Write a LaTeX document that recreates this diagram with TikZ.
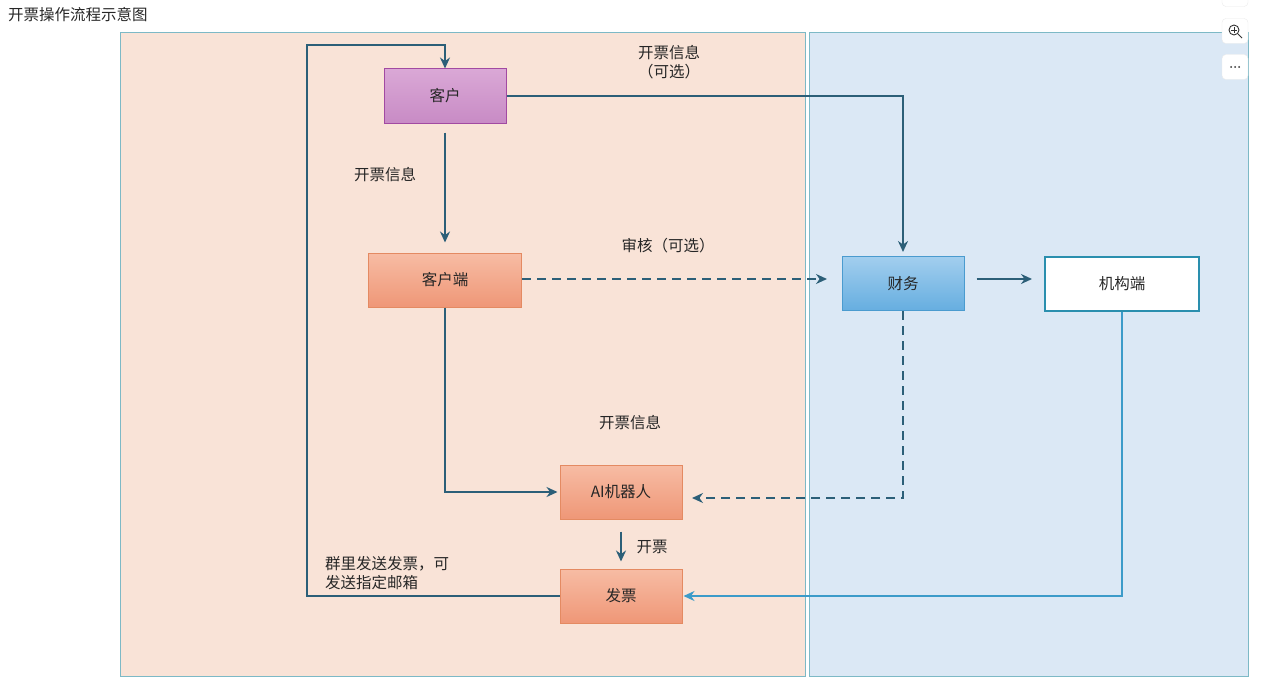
\documentclass[tikz,border=0pt]{standalone}
\usepackage{fontspec}
\setmainfont{Noto Sans CJK SC}
\usetikzlibrary{positioning,calc,arrows.meta}

\definecolor{peach}{HTML}{F9E3D7}
\definecolor{paleblue}{HTML}{DBE8F5}
\definecolor{panelline}{HTML}{7DB9C6}
\definecolor{flowline}{HTML}{2C5F78}
\definecolor{skyline}{HTML}{3C9BC9}
\definecolor{mauvetop}{HTML}{DAA8D6}
\definecolor{mauvebot}{HTML}{C88BC5}
\definecolor{mauveline}{HTML}{A24AA2}
\definecolor{salmontop}{HTML}{F7BCA4}
\definecolor{salmonbot}{HTML}{EF9777}
\definecolor{salmonline}{HTML}{E48A62}
\definecolor{bluetop}{HTML}{A2CEEE}
\definecolor{bluebot}{HTML}{66AEE0}
\definecolor{blueline}{HTML}{4A9BCF}
\definecolor{tealline}{HTML}{2A8FAE}

\tikzset{
  panel/.style={draw=panelline, line width=1pt},
  box/.style={minimum width=122pt, minimum height=54pt, inner sep=0pt, line width=1pt, text=black!85},
  clientbox/.style={box, draw=mauveline, top color=mauvetop, bottom color=mauvebot},
  orangebox/.style={box, draw=salmonline, top color=salmontop, bottom color=salmonbot},
  bluebox/.style={box, draw=blueline, top color=bluetop, bottom color=bluebot},
  whitebox/.style={box, draw=tealline, fill=white, line width=2pt},
  flow/.style={draw=flowline, line width=1.8pt, -{Stealth[length=11pt,width=10pt]}},
  label/.style={text=black!85, inner sep=0pt, align=center},
  uibtn/.style={draw=black!8, fill=white, rounded corners=4pt, minimum width=26pt, minimum height=25pt}
}

\begin{document}
\begin{tikzpicture}[x=1pt, y=-1pt, font=\fontsize{15.5}{19}\selectfont]

\useasboundingbox (0,0) rectangle (1262,685);

% panels
\draw[panel, fill=peach] (120,33) rectangle (805,676);
\draw[panel, fill=paleblue] (809,33) rectangle (1248,676);

% title
\node[label, anchor=west] (title) at (8,15) {开票操作流程示意图};

% screen buttons
\node[uibtn] (btntop) at (1235,-6) {};
\node[uibtn] (btnzoom) at (1235,31) {};
\draw[black!80, line width=0.9pt] (btnzoom.center) ++(-1,-1) circle (5pt);
\draw[black!80, line width=0.9pt] ($(btnzoom.center)+(-4,-1)$) -- ++(6,0) ($(btnzoom.center)+(-1,-4)$) -- ++(0,6);
\draw[black!80, line width=1pt] ($(btnzoom.center)+(3,3)$) -- ++(4,4);
\node[uibtn] (btnmore) at (1235,67) {};
\foreach \dx in {-4,0,4}
  \fill[black!80] ($(btnmore.center)+(\dx,0)$) circle (1pt);

% boxes
\node[clientbox] (kehu) at (445,96) {客户};
\node[orangebox, minimum width=153pt] (kehuduan) at (445,280) {客户端};
\node[orangebox] (ai) at (621,492) {AI机器人};
\node[orangebox] (fapiao) at (621,596) {发票};
\node[bluebox] (caiwu) at (903,283.5) {财务};
\node[whitebox, minimum width=154pt] (jigou) at (1122,283.5) {机构端};

% free ends
\coordinate (loopbot) at (307,596);
\coordinate (looptop) at (307,45);
\coordinate (reviewend) at (827,279);
\coordinate (aidash) at (692,498);

% connectors
\draw[flow] (fapiao.west) -- (loopbot) -- (looptop) -| (kehu.north);
\draw[flow] ([yshift=-9pt]kehu.south) -- ([yshift=10pt]kehuduan.north);
\draw[flow, shorten >=4pt] (kehu.east) -| (caiwu.north);
\draw[flow, dash pattern=on 9pt off 6pt] (kehuduan.east |- reviewend) -- (reviewend);
\draw[flow] ([shift={(12,-4.5)}]caiwu.east) -- ([shift={(-12,-4.5)}]jigou.west);
\draw[flow, shorten >=2pt] (kehuduan.south) |- (ai.west);
\draw[flow, dash pattern=on 9pt off 6pt] (caiwu.south) |- (aidash);
\draw[flow] ([yshift=-12pt]ai.south) -- ([yshift=7pt]fapiao.north);
\draw[flow, draw=skyline, shorten >=1pt] (jigou.south) |- (fapiao.east);

% labels
\node[label] (optinfo) at (669,62) {开票信息\\（可选）};
\node[label] (info) at (385,175) {开票信息};
\node[label] (review) at (668,246) {审核（可选）};
\node[label] (aiinfo) at (630,423) {开票信息};
\node[label] (issue) at (652,547) {开票};
\node[label, anchor=west, align=left] (sendnote) at (325,573) {群里发送发票，可\\发送指定邮箱};

\end{tikzpicture}
\end{document}
